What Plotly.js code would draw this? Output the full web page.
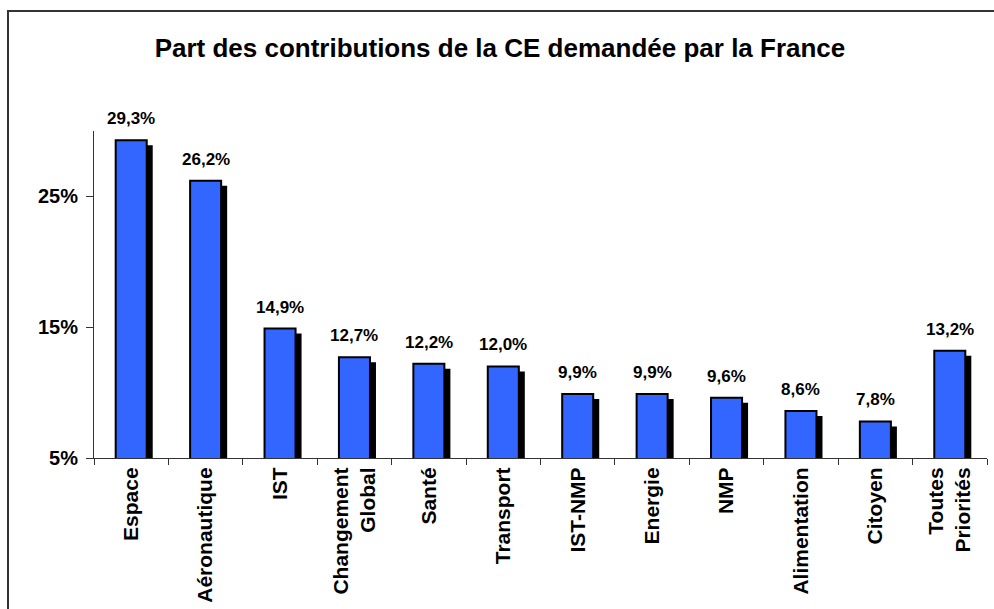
<!DOCTYPE html>
<html>
<head>
<meta charset="utf-8">
<script src="https://cdn.plot.ly/plotly-3.0.1.min.js"></script>
<style>
  html, body { margin: 0; padding: 0; background: #fff; }
  #chart { width: 994px; height: 609px; }
</style>
</head>
<body>
<div id="chart"></div>
<script>
  "use strict";

  const CATEGORIES = [
    "Espace", "Aéronautique", "IST", "Changement<br>Global", "Santé", "Transport",
    "IST-NMP", "Energie", "NMP", "Alimentation", "Citoyen", "Toutes<br>Priorités"
  ];
  const SHARES = [29.3, 26.2, 14.9, 12.7, 12.2, 12.0, 9.9, 9.9, 9.6, 8.6, 7.8, 13.2];
  const Y_TICKS = [5, 15, 25];

  const FONT = "Liberation Sans, Arial, sans-serif";
  const BLUE = "#3366ff";

  // shadow drop, in pixels, turned into axis units below
  const PLOT_W = 994 - 94 - 7;
  const PLOT_H = 609 - 131 - 151;
  const SHADOW_PX = 5;
  const dx = SHADOW_PX / (PLOT_W / CATEGORIES.length);
  const dy = SHADOW_PX / (PLOT_H / 25);

  function pct(v) {
    return v.toFixed(1).replace(".", ",") + "%";
  }

  const shadow = {
    type: "bar",
    x: CATEGORIES,
    y: SHARES,
    xaxis: "x",
    yaxis: "y",
    width: 0.444,
    marker: { color: "#000000", line: { width: 0 } },
    hoverinfo: "skip"
  };

  const bars = {
    type: "bar",
    x: CATEGORIES,
    y: SHARES,
    xaxis: "x2",
    yaxis: "y2",
    width: 0.417,
    marker: { color: BLUE, line: { color: "#000000", width: 2 } },
    hovertemplate: "%{x}: %{y:.1f}%<extra></extra>"
  };

  const annotations = CATEGORIES.map((c, i) => ({
    x: c,
    y: SHARES[i],
    xref: "x2",
    yref: "y2",
    text: pct(SHARES[i]),
    showarrow: false,
    yanchor: "bottom",
    yshift: 10,
    font: { family: FONT, size: 17, color: "#000", weight: "bold" }
  }));

  const layout = {
    width: 994,
    height: 609,
    margin: { l: 94, r: 7, t: 131, b: 151 },
    paper_bgcolor: "#ffffff",
    plot_bgcolor: "#ffffff",
    showlegend: false,
    title: {
      text: "Part des contributions de la CE demandée par la France",
      x: 0.503,
      xref: "container",
      y: 0.922,
      yref: "container",
      yanchor: "middle",
      font: { family: FONT, size: 26, color: "#000", weight: "bold" }
    },
    xaxis: {
      visible: false,
      type: "category",
      range: [-0.5 - dx, CATEGORIES.length - 0.5 - dx]
    },
    yaxis: {
      visible: false,
      range: [5 + dy, 30 + dy]
    },
    xaxis2: {
      overlaying: "x",
      type: "category",
      range: [-0.5, CATEGORIES.length - 0.5],
      showline: true,
      linecolor: "#333",
      linewidth: 1,
      ticks: "outside",
      tickson: "boundaries",
      ticklen: 6,
      tickcolor: "#333",
      tickangle: -90,
      showgrid: false,
      tickfont: { family: FONT, size: 21, color: "#000", weight: "bold" }
    },
    yaxis2: {
      overlaying: "y",
      range: [5, 30],
      tickmode: "array",
      tickvals: Y_TICKS,
      ticktext: Y_TICKS.map((v) => v + "%"),
      showline: true,
      linecolor: "#333",
      linewidth: 1,
      ticks: "outside",
      ticklen: 7,
      tickcolor: "#333",
      showgrid: false,
      zeroline: false,
      ticklabelstandoff: 4,
      tickfont: { family: FONT, size: 20, color: "#000", weight: "bold" }
    },
    annotations: annotations,
    shapes: [
      {
        type: "rect",
        xref: "paper",
        yref: "paper",
        x0: (8 - 94) / PLOT_W,
        x1: 1.2,
        y0: -1,
        y1: (458 - 11) / PLOT_H,
        line: { color: "#333", width: 2 },
        fillcolor: "rgba(0,0,0,0)"
      }
    ]
  };

  Plotly.newPlot("chart", [shadow, bars], layout, { displayModeBar: false, staticPlot: true });
</script>
</body>
</html>
